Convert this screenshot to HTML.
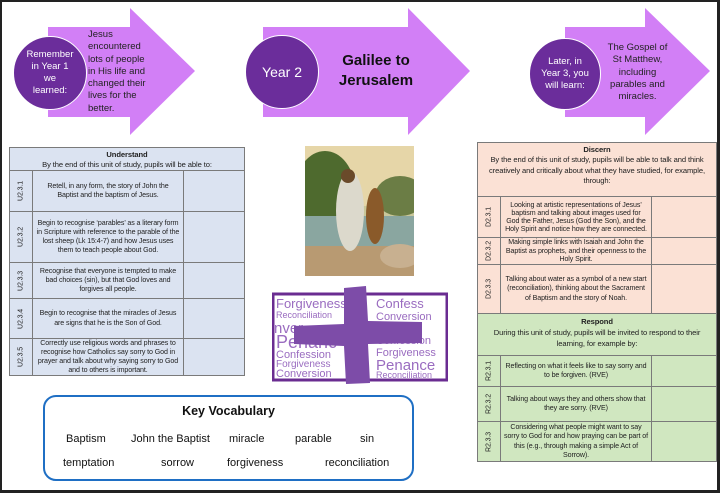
<!DOCTYPE html>
<html><head><meta charset="utf-8"><style>
*{margin:0;padding:0;box-sizing:border-box}
body{width:720px;height:493px;background:#222;position:relative;overflow:hidden;font-family:"Liberation Sans",sans-serif}
#pg{position:absolute;left:2px;top:2px;width:715px;height:488px;background:#fff}
.a{position:absolute}
.c{position:absolute;display:flex;align-items:center;justify-content:center;text-align:center;border:1px solid #7a7a7a;font-size:7.1px;line-height:9.2px;color:#222;padding:0 3px;letter-spacing:-0.1px}
.id{writing-mode:vertical-rl;transform:rotate(180deg);font-size:7px;padding:0}
.circ{position:absolute;border-radius:50%;background:#6b2d9b;border:1.5px solid #fff;color:#fff;display:flex;align-items:center;justify-content:center;text-align:center}
.vw{position:absolute;font-size:11px;color:#111}
</style></head><body><div id="pg"></div>
<svg class="a" style="left:0;top:0" width="720" height="493">
<polygon points="48,27 130,27 130,8 195,71 130,135 130,117 48,117" fill="#d27ff6"/>
<polygon points="263,27 408,27 408,8 470,71 408,135 408,117 263,117" fill="#d27ff6"/>
<polygon points="565,27 645,27 645,8 710,71 645,135 645,117 565,117" fill="#d27ff6"/>
</svg>
<div class="circ" style="left:13px;top:36px;width:74px;height:74px;font-size:9.5px;line-height:12px">Remember<br>in Year 1<br>we<br>learned:</div>
<div class="a" style="left:88px;top:29px;font-size:9.5px;line-height:12.3px;color:#222">Jesus<br>encountered<br>lots of people<br>in His life and<br>changed their<br>lives for the<br>better.</div>
<div class="circ" style="left:245px;top:35px;width:74px;height:74px;font-size:14px">Year 2</div>
<div class="a" style="left:326px;top:51px;width:100px;text-align:center;font-size:15px;line-height:20px;font-weight:bold;color:#111">Galilee to<br>Jerusalem</div>
<div class="circ" style="left:529px;top:38px;width:72px;height:72px;font-size:9.5px;line-height:12px">Later, in<br>Year 3, you<br>will learn:</div>
<div class="a" style="left:600px;top:42px;width:75px;text-align:center;font-size:9.5px;line-height:12.3px;color:#222">The Gospel of<br>St Matthew,<br>including<br>parables and<br>miracles.</div>

<!-- left table -->
<div style="position:absolute;left:9px;top:147px;width:236px;height:228px;background:#dbe3f1"></div>
<div class="c" style="left:9px;top:147px;width:236px;height:24px;display:block;padding-top:2px;font-size:7.6px;line-height:10px"><b>Understand</b><br>By the end of this unit of study, pupils will be able to:</div>
<div class="c id" style="left:9px;top:170px;width:24px;height:42px">U2.3.1</div>
<div class="c" style="left:32px;top:170px;width:152px;height:42px">Retell, in any form, the story of John the Baptist and the baptism of Jesus.</div>
<div class="c" style="left:183px;top:170px;width:62px;height:42px"></div>
<div class="c id" style="left:9px;top:211px;width:24px;height:52px">U2.3.2</div>
<div class="c" style="left:32px;top:211px;width:152px;height:52px">Begin to recognise ‘parables’ as a literary form in Scripture with reference to the parable of the lost sheep (Lk 15:4-7) and how Jesus uses them to teach people about God.</div>
<div class="c" style="left:183px;top:211px;width:62px;height:52px"></div>
<div class="c id" style="left:9px;top:262px;width:24px;height:37px">U2.3.3</div>
<div class="c" style="left:32px;top:262px;width:152px;height:37px">Recognise that everyone is tempted to make bad choices (sin), but that God loves and forgives all people.</div>
<div class="c" style="left:183px;top:262px;width:62px;height:37px"></div>
<div class="c id" style="left:9px;top:298px;width:24px;height:41px">U2.3.4</div>
<div class="c" style="left:32px;top:298px;width:152px;height:41px">Begin to recognise that the miracles of Jesus are signs that he is the Son of God.</div>
<div class="c" style="left:183px;top:298px;width:62px;height:41px"></div>
<div class="c id" style="left:9px;top:338px;width:24px;height:38px">U2.3.5</div>
<div class="c" style="left:32px;top:338px;width:152px;height:38px;line-height:8.8px">Correctly use religious words and phrases to recognise how Catholics say sorry to God in prayer and talk about why saying sorry to God and to others is important.</div>
<div class="c" style="left:183px;top:338px;width:62px;height:38px"></div>

<!-- right table -->
<div style="position:absolute;left:477px;top:142px;width:240px;height:172px;background:#fbe1d5"></div>
<div style="position:absolute;left:477px;top:313px;width:240px;height:149px;background:#d0e7c0"></div>
<div class="c" style="left:477px;top:142px;width:240px;height:55px;display:block;padding-top:2px;font-size:7.6px;line-height:10.3px"><b>Discern</b><br>By the end of this unit of study, pupils will be able to talk and think creatively and critically about what they have studied, for example, through:</div>
<div class="c id" style="left:477px;top:196px;width:24px;height:42px">D2.3.1</div>
<div class="c" style="left:500px;top:196px;width:152px;height:42px;line-height:8.2px">Looking at artistic representations of Jesus’ baptism and talking about images used for God the Father, Jesus (God the Son), and the Holy Spirit and notice how they are connected.</div>
<div class="c" style="left:651px;top:196px;width:66px;height:42px"></div>
<div class="c id" style="left:477px;top:237px;width:24px;height:28px">D2.3.2</div>
<div class="c" style="left:500px;top:237px;width:152px;height:28px;line-height:8.6px">Making simple links with Isaiah and John the Baptist as prophets, and their openness to the Holy Spirit.</div>
<div class="c" style="left:651px;top:237px;width:66px;height:28px"></div>
<div class="c id" style="left:477px;top:264px;width:24px;height:50px">D2.3.3</div>
<div class="c" style="left:500px;top:264px;width:152px;height:50px">Talking about water as a symbol of a new start (reconciliation), thinking about the Sacrament of Baptism and the story of Noah.</div>
<div class="c" style="left:651px;top:264px;width:66px;height:50px"></div>
<div class="c" style="left:477px;top:313px;width:240px;height:43px;display:block;padding-top:3px;font-size:7.6px;line-height:10.8px"><b>Respond</b><br>During this unit of study, pupils will be invited to respond to their learning, for example by:</div>
<div class="c id" style="left:477px;top:355px;width:24px;height:32px">R2.3.1</div>
<div class="c" style="left:500px;top:355px;width:152px;height:32px">Reflecting on what it feels like to say sorry and to be forgiven. (RVE)</div>
<div class="c" style="left:651px;top:355px;width:66px;height:32px"></div>
<div class="c id" style="left:477px;top:386px;width:24px;height:36px">R2.3.2</div>
<div class="c" style="left:500px;top:386px;width:152px;height:36px">Talking about ways they and others show that they are sorry. (RVE)</div>
<div class="c" style="left:651px;top:386px;width:66px;height:36px"></div>
<div class="c id" style="left:477px;top:421px;width:24px;height:41px">R2.3.3</div>
<div class="c" style="left:500px;top:421px;width:152px;height:41px">Considering what people might want to say sorry to God for and how praying can be part of this (e.g., through making a simple Act of Sorrow).</div>
<div class="c" style="left:651px;top:421px;width:66px;height:41px"></div>

<!-- painting -->
<svg class="a" style="left:305px;top:146px" width="109" height="130">
<rect width="109" height="130" fill="#c9c79a"/>
<rect width="109" height="60" fill="#e6d6a8"/>
<ellipse cx="20" cy="45" rx="30" ry="40" fill="#4e6a2e"/>
<ellipse cx="95" cy="50" rx="25" ry="20" fill="#6b7d45"/>
<rect y="70" width="109" height="35" fill="#8aa6a0"/>
<rect y="100" width="109" height="30" fill="#b89a72"/>
<ellipse cx="45" cy="65" rx="14" ry="40" fill="#dcd9cc"/>
<circle cx="43" cy="30" r="7" fill="#6a4a2a"/>
<ellipse cx="70" cy="70" rx="9" ry="28" fill="#8a5a2a"/>
<ellipse cx="95" cy="110" rx="20" ry="12" fill="#c8b090"/>
</svg>
<!-- logo -->
<svg class="a" style="left:272px;top:286px" width="176" height="98">
<rect x="1" y="8" width="174" height="86" fill="#fff" stroke="#6a2c91" stroke-width="3"/>
<g font-family="Liberation Sans" fill="#9a6cc0">
<text x="4" y="22" font-size="13">Forgiveness</text><text x="104" y="22" font-size="13">Confess</text>
<text x="4" y="32" font-size="9">Reconciliation</text><text x="104" y="34" font-size="11">Conversion</text>
<text x="2" y="47" font-size="15">nver</text><text x="124" y="47" font-size="15">ncili</text>
<text x="4" y="62" font-size="18">Penanc</text><text x="104" y="58" font-size="11">Confession</text>
<text x="4" y="72" font-size="11">Confession</text><text x="104" y="70" font-size="11">Forgiveness</text>
<text x="4" y="81" font-size="10">Forgiveness</text><text x="104" y="84" font-size="15">Penance</text>
<text x="4" y="91" font-size="11">Conversion</text><text x="104" y="92" font-size="9">Reconciliation</text>
</g>
<polygon points="72,2 94,0 96,35 150,36 150,57 96,58 98,97 74,98 72,60 22,58 22,40 72,38" fill="#7d4ca8"/>
</svg>

<!-- key vocab -->
<div class="a" style="left:43px;top:395px;width:371px;height:86px;border:2.5px solid #1f6fc4;border-radius:13px"></div>
<div class="a" style="left:43px;top:404px;width:371px;text-align:center;font-size:12.5px;font-weight:bold;color:#111">Key Vocabulary</div>
<div class="vw" style="left:66px;top:433px">Baptism</div>
<div class="vw" style="left:131px;top:433px">John the Baptist</div>
<div class="vw" style="left:229px;top:433px">miracle</div>
<div class="vw" style="left:295px;top:433px">parable</div>
<div class="vw" style="left:360px;top:433px">sin</div>
<div class="vw" style="left:63px;top:457px">temptation</div>
<div class="vw" style="left:161px;top:457px">sorrow</div>
<div class="vw" style="left:227px;top:457px">forgiveness</div>
<div class="vw" style="left:325px;top:457px">reconciliation</div>
</body></html>
